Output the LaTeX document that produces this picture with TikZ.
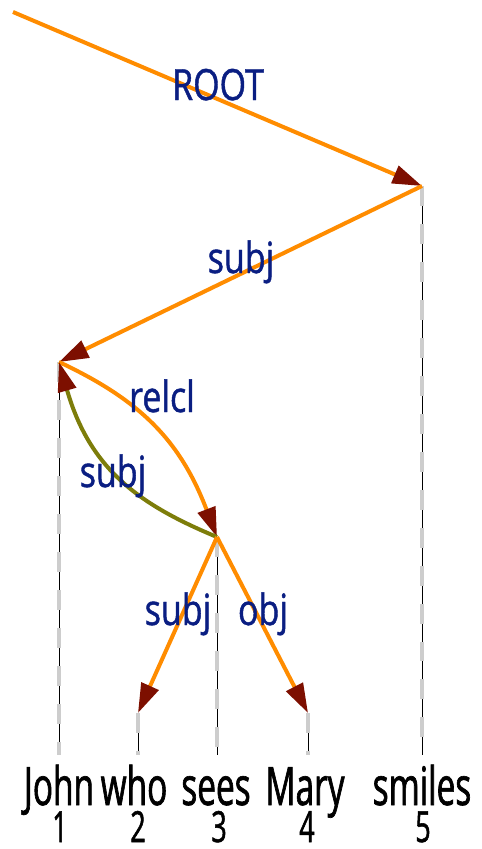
\documentclass[tikz,border=0pt]{standalone}
\usepackage{fontspec}
\setmainfont{Open Sans}
\newfontfamily\wordfont[FakeStretch=0.63,FakeBold=1.2]{Open Sans}
\newfontfamily\deplabelfont[FakeStretch=0.79,FakeBold=1]{Open Sans}
\usetikzlibrary{arrows.meta}
\definecolor{arcorange}{RGB}{255,140,0}
\definecolor{arcolive}{RGB}{125,125,10}
\definecolor{tipred}{RGB}{125,15,0}
\definecolor{labelblue}{RGB}{10,30,130}
\definecolor{dashgray}{RGB}{205,205,205}

\begin{document}
\begin{tikzpicture}[x=0.25mm,y=-0.25mm,>={Triangle[length=21pt,width=13pt,color=tipred]},
  arc/.style={->,arcorange,line width=2.85pt},
  rel/.style={text=labelblue,font=\deplabelfont\fontsize{30.6}{36}\selectfont,anchor=base,inner sep=0pt},
  word/.style={font=\wordfont\fontsize{37.7}{44}\selectfont,anchor=base,inner sep=0pt},
  idx/.style={font=\wordfont\fontsize{30.5}{36}\selectfont,anchor=base,inner sep=0pt}]
  \useasboundingbox (0,0) rectangle (481,849);
  % heads of the five tokens
  \coordinate (start) at (13,12);
  \coordinate (h1) at (59,362);
  \coordinate (h2) at (138,713);
  \coordinate (h3) at (217,537);
  \coordinate (h4) at (308,713);
  \coordinate (h5) at (422,186);
  % projection lines
  \foreach \i/\x in {1/59,2/138,3/217,4/308,5/422} {
    \coordinate (b\i) at (\x,755);
    \draw[line width=0.7pt] (h\i) -- (b\i);
    \draw[dashgray,line width=2.85pt,dash pattern=on 14.2pt off 12.8pt] (h\i) -- (b\i);
  }
  % words and positions
  \node[word] (w1) at (59,805) {John};
  \node[word] (w2) at (134,805) {who};
  \node[word] (w3) at (216,805) {sees};
  \node[word] (w4) at (305,805) {Mary};
  \node[word] (w5) at (422,805) {smiles};
  \node[idx] (n1) at (60,842) {1};
  \node[idx] (n2) at (138,842) {2};
  \node[idx] (n3) at (219,842) {3};
  \node[idx] (n4) at (307,842) {4};
  \node[idx] (n5) at (423,842) {5};
  % dependency arcs
  \draw[arc] (start) -- (h5);
  \draw[arc] (h5) -- (h1);
  \draw[arc] (h1) .. controls (140,400) and (180,440) .. (h3);
  \draw[arc,arcolive] (h3) .. controls (140,505) and (90,470) .. (h1);
  \draw[arc] (h3) -- (h2);
  \draw[arc] (h3) -- (h4);
  \node[rel] (lroot) at (218,100) {ROOT};
  \node[rel] (lsubj) at (241,273) {subj};
  \node[rel] (lrelcl) at (162,412) {relcl};
  \node[rel] (lsubjrel) at (113,487) {subj};
  \node[rel] (lsubjwho) at (178,625) {subj};
  \node[rel] (lobj) at (263,625) {obj};
\end{tikzpicture}
\end{document}
